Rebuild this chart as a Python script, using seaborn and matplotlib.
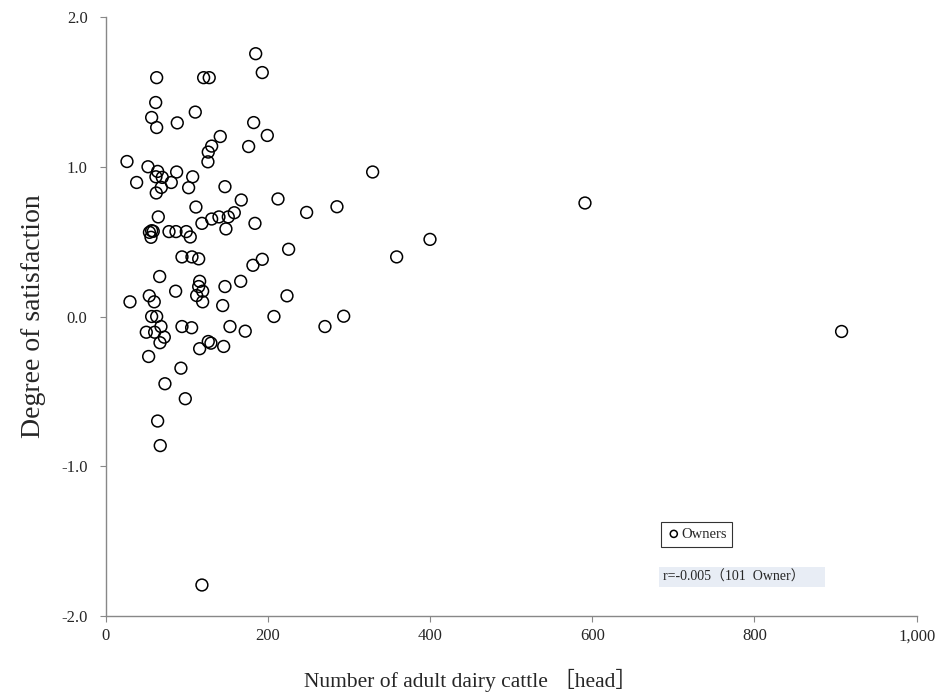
import numpy as np
import pandas as pd
import matplotlib
matplotlib.use('Agg')
import matplotlib.pyplot as plt
import seaborn as sns

# broj krava (odrasla muzna grla) po farmi
cattle = [185.0, 193.1, 62.9, 120.8, 127.7, 61.7, 110.5, 56.7, 88.3, 62.9,
          182.5, 199.3, 141.3, 130.7, 176.3, 126.5, 126.1, 26.3, 52.2, 64.1,
          87.5, 62.0, 69.8, 107.3, 38.2, 80.9, 68.6, 102.3, 147.1, 62.4,
          167.2, 212.5, 111.3, 64.9, 158.6, 151.2, 139.7, 130.7, 118.7, 184.1,
          56.7, 58.7, 55.9, 78.1, 86.7, 99.4, 104.3, 148.3, 225.6, 94.1,
          106.4, 114.7, 193.1, 181.6, 66.6, 166.5, 115.9, 114.7, 147.1, 86.3,
          119.6, 112.2, 53.8, 223.6, 30.0, 59.9, 119.6, 144.3, 56.7, 62.9,
          207.5, 68.2, 50.1, 60.4, 94.1, 106.0, 153.3, 172.1, 72.3, 67.0,
          126.5, 129.8, 115.9, 145.5, 53.0, 92.8, 73.1, 98.2, 64.1, 67.3,
          118.7, 329.2, 247.8, 285.2, 399.9, 358.8, 270.4, 293.5, 591.0, 907.4,
          54.0]
# zadovoljstvo
satisfaction = [1.755, 1.629, 1.595, 1.595, 1.595, 1.429, 1.365, 1.329, 1.293, 1.262,
                1.295, 1.209, 1.202, 1.138, 1.135, 1.098, 1.033, 1.035, 1.0, 0.969,
                0.965, 0.933, 0.929, 0.933, 0.895, 0.895, 0.862, 0.86, 0.867, 0.825,
                0.778, 0.785, 0.731, 0.665, 0.693, 0.665, 0.665, 0.651, 0.622, 0.622,
                0.573, 0.569, 0.529, 0.567, 0.567, 0.567, 0.531, 0.585, 0.449, 0.398,
                0.398, 0.385, 0.382, 0.342, 0.267, 0.235, 0.235, 0.2, 0.2, 0.169,
                0.169, 0.14, 0.138, 0.138, 0.098, 0.098, 0.098, 0.073, 0.0, 0.0,
                0.0, -0.067, -0.105, -0.105, -0.067, -0.075, -0.067, -0.098, -0.138, -0.175,
                -0.167, -0.178, -0.215, -0.2, -0.267, -0.345, -0.449, -0.549, -0.698, -0.862,
                -1.793, 0.965, 0.695, 0.733, 0.515, 0.398, -0.067, 0.002, 0.758, -0.1,
                0.562]

x_ticks = [0, 200, 400, 600, 800, 1000]
y_ticks = [-2.0, -1.0, 0.0, 1.0, 2.0]
legend_label = 'Owners'
note = 'r=-0.005（101  Owner）     '

df = pd.DataFrame({'cattle': cattle, 'satisfaction': satisfaction})

sns.set_style('ticks')
plt.rcParams['font.family'] = ['Liberation Serif', 'Noto Sans CJK JP']

fig = plt.figure(figsize=(9.4, 7), dpi=100)
ax = fig.add_axes([0.1124, 0.12, 0.8628, 0.8557])

sns.scatterplot(data=df, x='cattle', y='satisfaction', ax=ax, marker='o', s=72,
                facecolors='none', edgecolors='black', linewidth=1.1, label=legend_label)

ax.set_xlim(0, 1000)
ax.set_ylim(-2, 2)
ax.set_xticks(x_ticks)
ax.set_yticks(y_ticks)
ax.set_xticklabels(['{:,}'.format(v) for v in x_ticks])
ax.set_yticklabels(['{:.1f}'.format(v) for v in y_ticks])

sns.despine(ax=ax)
for sp in ['left', 'bottom']:
    ax.spines[sp].set_color('#888888')
    ax.spines[sp].set_linewidth(1.0)
ax.tick_params(axis='y', length=4, color='#888888', labelsize=12, pad=9)
ax.tick_params(axis='x', length=4, color='#888888', labelsize=12, pad=5)

ax.set_xlabel('Number of adult dairy cattle ［head］', fontsize=15.5)
ax.xaxis.set_label_coords(0.45, -0.088)
ax.set_ylabel('Degree of satisfaction', fontsize=20, labelpad=11)

leg = ax.legend(loc='center', bbox_to_anchor=(0.741, 0.237), bbox_transform=fig.transFigure,
                fontsize=10.5, frameon=True, fancybox=False, handletextpad=0.0,
                handlelength=1.0, borderpad=0.4, markerscale=0.6)
leg.get_frame().set_edgecolor('black')
leg.get_frame().set_linewidth(0.8)

fig.text(0.705, 0.176, note, fontsize=10, va='center', ha='left',
         bbox=dict(boxstyle='square,pad=0.25', facecolor='#e8edf5', edgecolor='none'))

fig.savefig('out.png', dpi=100)
